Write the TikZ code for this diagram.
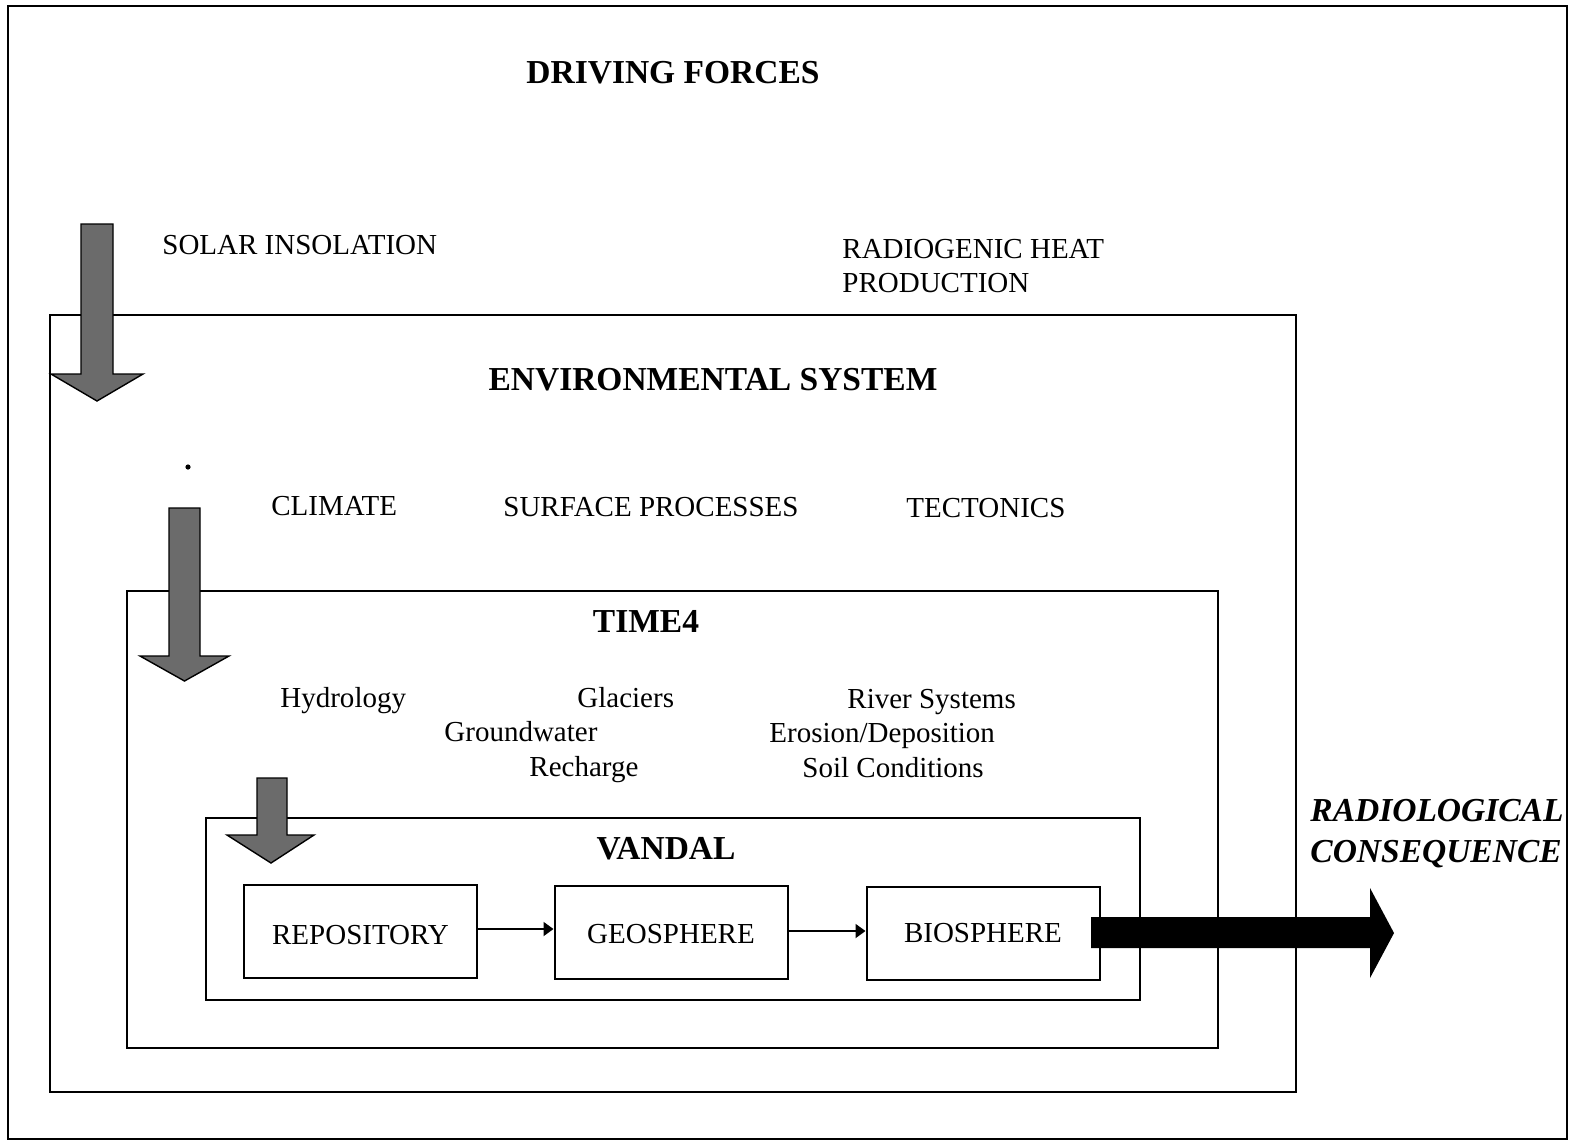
\documentclass[tikz,border=0pt]{standalone}
\usepackage{fontspec}
\setmainfont{Liberation Serif}
\usetikzlibrary{arrows.meta}
\begin{document}
\begin{tikzpicture}[x=0.5pt,y=-0.5pt,
  frame/.style={draw, line width=1pt},
  lbl/.style={font=\fontsize{14.5}{17}\selectfont, inner sep=0pt, anchor=base west},
  hd/.style={font=\fontsize{16.75}{20}\selectfont\bfseries, inner sep=0pt, anchor=base},
  comp/.style={draw, line width=1pt, minimum width=116.5pt, minimum height=46.5pt, inner sep=0pt, font=\fontsize{14.5}{17}\selectfont},
  flow/.style={line width=0.9pt, -{Triangle[length=5pt,width=7pt]}},
  fatarrow/.style={draw=black, line width=0.7pt, fill=black!58},
  blackarrow/.style={fill=black}]
\useasboundingbox (0,0) rectangle (1572,1142);
% outer border
\draw[line width=1.3pt] (8,6) rectangle (1567,1139);
% containers
\draw[frame] (50,315) rectangle (1296,1092);
\draw[frame] (127,591) rectangle (1218,1048);
\draw[frame] (206,818) rectangle (1140,1000);
% headings
\node[hd] (driving) at (673,83) {DRIVING FORCES};
\node[hd] (env) at (713,390) {ENVIRONMENTAL SYSTEM};
\node[hd] (time4) at (646,632) {TIME4};
\node[hd] (vandal) at (666,859) {VANDAL};
% driving forces labels
\node[lbl] (solar) at (162,254) {SOLAR INSOLATION};
\node[lbl] (radio1) at (842,258) {RADIOGENIC HEAT};
\node[lbl] (radio2) at (842,292) {PRODUCTION};
% environmental labels
\node[lbl] (climate) at (271,515) {CLIMATE};
\node[lbl] (surface) at (503,516) {SURFACE PROCESSES};
\node[lbl] (tecto) at (906,517) {TECTONICS};
% time4 labels
\node[lbl] (hydro) at (280,707) {Hydrology};
\node[lbl] (glac) at (577,707) {Glaciers};
\node[lbl] (river) at (847,708) {River Systems};
\node[lbl] (ground) at (444,741) {Groundwater};
\node[lbl] (erosion) at (769,742) {Erosion/Deposition};
\node[lbl] (recharge) at (529,776) {Recharge};
\node[lbl] (soil) at (802,777) {Soil Conditions};
% small dot
\fill (188,467) circle (1.3pt);
% components
\node[comp, text height=13.1pt, text depth=0pt] (rep) at (360.5,931.5) {REPOSITORY};
\node[comp, text height=11.6pt, text depth=0pt] (geo) at (671,932) {GEOSPHERE};
\node[comp] (bio) at (983,933) {BIOSPHERE};
\draw[flow] ([yshift=1.25pt]rep.east) -- ([yshift=1.25pt]rep.east -| geo.west);
\draw[flow] ([yshift=0.5pt]geo.east) -- ([yshift=0.5pt]geo.east -| bio.west);
% shaded downward arrows
\draw[fatarrow] (81,224) -- (113,224) -- (113,374) -- (143,374) -- (97,401) -- (51,374) -- (81,374) -- cycle;
\draw[fatarrow] (169,508) -- (200,508) -- (200,656) -- (229,656) -- (184.5,681) -- (140,656) -- (169,656) -- cycle;
\draw[fatarrow] (257,778) -- (287,778) -- (287,835) -- (314,835) -- (271,863) -- (227,835) -- (257,835) -- cycle;
% radiological consequence arrow
\fill[blackarrow] (1091,917) -- (1370,917) -- (1370,888) -- (1394,933) -- (1370,978) -- (1370,948) -- (1091,948) -- cycle;
\node[font=\fontsize{16.75}{20}\selectfont\bfseries\itshape, inner sep=0pt, anchor=base west] (rc1) at (1310,821) {RADIOLOGICAL};
\node[font=\fontsize{16.75}{20}\selectfont\bfseries\itshape, inner sep=0pt, anchor=base west] (rc2) at (1310,862) {CONSEQUENCE};
\end{tikzpicture}
\end{document}
